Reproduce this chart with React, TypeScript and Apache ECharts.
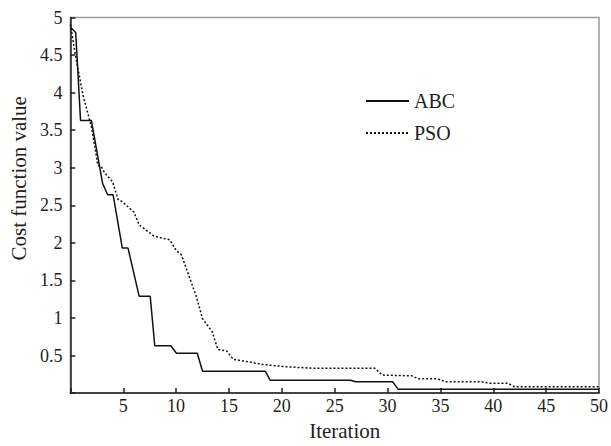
import React, { useEffect, useRef } from "react";
import * as echarts from "echarts";

const seriesNames = ["ABC", "PSO"];
const abcX = [0, 0.5, 0.96, 1.98, 3.05, 3.52, 4.04, 4.91, 5.45, 6.5, 7.55, 7.98, 9.5, 10.03, 12, 12.5, 18.45, 18.9, 26.5, 27, 30.5, 31, 50];
const abcY = [4.87, 4.8, 3.63, 3.63, 2.79, 2.64, 2.64, 1.93, 1.93, 1.29, 1.29, 0.63, 0.63, 0.53, 0.53, 0.29, 0.29, 0.17, 0.17, 0.15, 0.15, 0.05, 0.05];
const psoX = [0, 0.46, 1.2, 2, 2.6, 2.9, 3.2, 4, 4.5, 4.9, 6, 6.5, 7.25, 7.9, 9.4, 10, 10.5, 11.9, 12.5, 13.4, 13.95, 14.8, 15.4, 17.1, 18.2, 20.5, 23, 28.8, 29.5, 32.3, 32.9, 34.7, 35.5, 38.9, 39.7, 41.4, 42, 50];
const psoY = [4.91, 4.51, 3.96, 3.54, 3.03, 3.02, 2.94, 2.81, 2.58, 2.55, 2.41, 2.24, 2.16, 2.09, 2.04, 1.9, 1.84, 1.29, 0.99, 0.82, 0.58, 0.56, 0.45, 0.41, 0.38, 0.35, 0.33, 0.33, 0.24, 0.23, 0.19, 0.19, 0.15, 0.15, 0.13, 0.13, 0.085, 0.085];
const xTickInterval = 5;
const yTickInterval = 0.5;

const FONT = "'Liberation Serif', 'Times New Roman', serif";
const INK = "#231f20";

export default function App() {
  const ref = useRef<HTMLDivElement>(null);
  useEffect(() => {
    if (!ref.current) return;
    const chart = echarts.init(ref.current, null, { renderer: "svg" });
    const zip = (xs: number[], ys: number[]) => xs.map((x, i) => [x, ys[i]]);
    chart.setOption({
      animation: false,
      textStyle: { fontFamily: FONT },
      grid: {
        left: 65.5,
        right: 6.5,
        top: 17.5,
        bottom: 36,
        show: true,
        borderColor: "#9a9a9a",
        borderWidth: 1.5,
      },
      legend: {
        orient: "vertical",
        left: 360,
        top: 86,
        itemWidth: 43,
        itemHeight: 10,
        itemGap: 12,
        itemStyle: { opacity: 0 },
        textStyle: { fontFamily: FONT, fontSize: 20, color: INK },
        data: seriesNames,
      },
      xAxis: {
        type: "value",
        min: 0,
        max: 50,
        interval: xTickInterval,
        name: "Iteration",
        nameLocation: "middle",
        nameGap: 21,
        nameTextStyle: { fontFamily: FONT, fontSize: 21, color: INK, padding: [0, 0, 0, 20] },
        axisLine: { lineStyle: { color: INK, width: 1.5 } },
        axisTick: { inside: true, length: 5, lineStyle: { color: INK, width: 1.5 } },
        axisLabel: {
          fontFamily: FONT,
          fontSize: 18,
          color: INK,
          margin: 4,
          formatter: (v: number) => (v === 0 ? "" : String(v)),
        },
        splitLine: { show: false },
      },
      yAxis: {
        type: "value",
        min: 0,
        max: 5,
        interval: yTickInterval,
        name: "Cost function value",
        nameLocation: "middle",
        nameGap: 40,
        nameTextStyle: { fontFamily: FONT, fontSize: 21, color: INK, padding: [0, 0, 0, 54] },
        axisLine: { lineStyle: { color: INK, width: 1.5 } },
        axisTick: { inside: true, length: 5, lineStyle: { color: INK, width: 1.5 } },
        axisLabel: {
          fontFamily: FONT,
          fontSize: 18,
          color: INK,
          margin: 8,
          formatter: (v: number) => (v === 0 ? "" : String(v)),
        },
        splitLine: { show: false },
      },
      series: [
        {
          name: seriesNames[0],
          type: "line",
          symbol: "none",
          data: zip(abcX, abcY),
          lineStyle: { color: "#111", width: 1.5, type: "solid" },
          itemStyle: { color: "#111" },
        },
        {
          name: seriesNames[1],
          type: "line",
          symbol: "none",
          data: zip(psoX, psoY),
          lineStyle: { color: "#111", width: 1.5, type: [2, 2] },
          itemStyle: { color: "#111" },
        },
      ],
    });
    return () => chart.dispose();
  }, []);
  return <div ref={ref} style={{ width: 611, height: 446, position: "absolute", left: 0, top: 0 }} />;
}
